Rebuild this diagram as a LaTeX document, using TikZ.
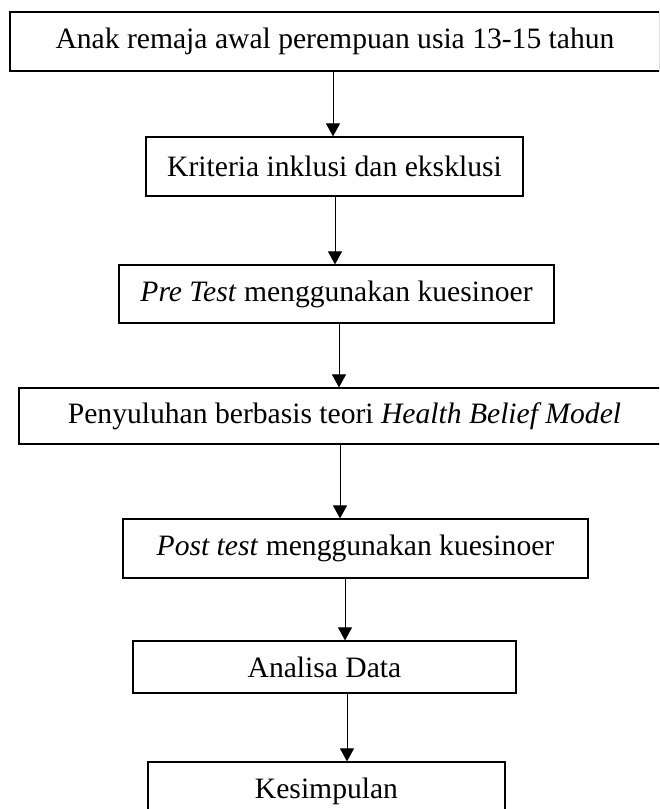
\documentclass[tikz,border=0pt]{standalone}
\usepackage{fontspec}
\setmainfont{Liberation Serif}
\usetikzlibrary{arrows.meta}
\begin{document}
\begin{tikzpicture}[x=0.5pt,y=-0.5pt,
  kotak/.style={draw,line width=0.6pt,rectangle,inner sep=0pt,font=\fontsize{14.8}{17}\selectfont},
  panah/.style={line width=0.5pt,-{Triangle[width=7pt,length=6.5pt]}}]
\clip (0,0) rectangle (659,809);

\node[kotak,minimum width=325pt,minimum height=29.5pt] (awal) at (335,41.5) {Anak remaja awal perempuan usia 13-15 tahun};
\node[kotak,minimum width=188.5pt,minimum height=29.5pt] (kriteria) at (334.5,166.5) {Kriteria inklusi dan eksklusi};
\node[kotak,minimum width=217.5pt,minimum height=29pt] (pre) at (336.5,294) {\textit{Pre Test} menggunakan kuesinoer};
\node[kotak,minimum width=325.5pt,minimum height=28pt] (suluh) at (344.5,416) {Penyuluhan berbasis teori \textit{Health Belief Model}};
\node[kotak,minimum width=232.5pt,minimum height=29.5pt] (post) at (355.5,548.5) {\textit{Post test} menggunakan kuesinoer};
\node[kotak,minimum width=191.5pt,minimum height=26pt] (analisa) at (324.5,667) {Analisa Data};
\node[kotak,minimum width=178.5pt,minimum height=29.5pt] (simpul) at (326.5,791.5) {Kesimpulan};

\draw[panah] (awal.south -| 333,0) -- (kriteria.north -| 333,0);
\draw[panah] (kriteria.south -| 335,0) -- (pre.north -| 335,0);
\draw[panah] (pre.south -| 339,0) -- (suluh.north -| 339,0);
\draw[panah] (suluh.south -| 340,0) -- (post.north -| 340,0);
\draw[panah] (post.south -| 345,0) -- (analisa.north -| 345,0);
\draw[panah] (analisa.south -| 347,0) -- (simpul.north -| 347,0);
\end{tikzpicture}
\end{document}
